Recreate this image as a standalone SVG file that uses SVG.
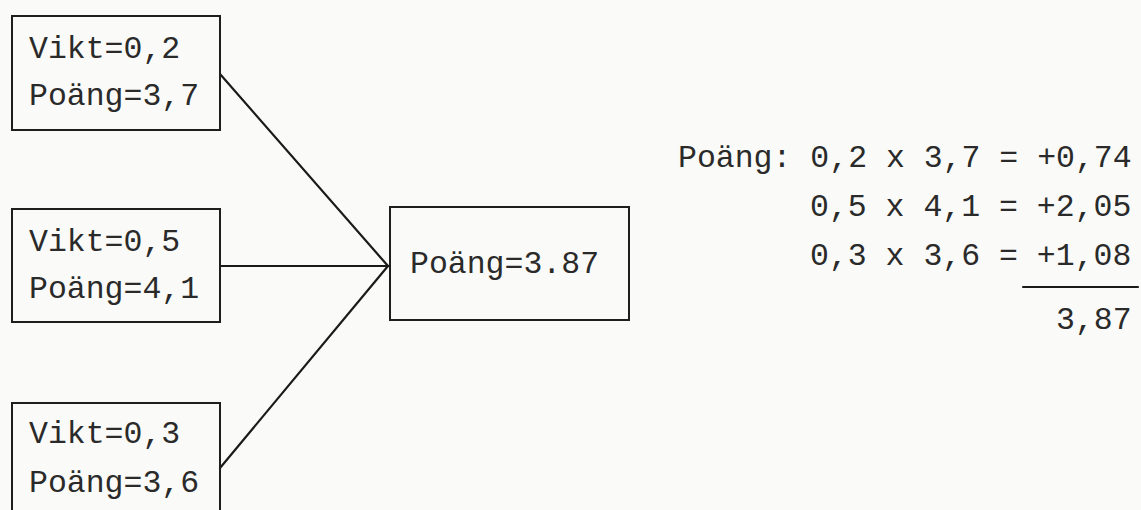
<svg xmlns="http://www.w3.org/2000/svg" width="1141" height="510" viewBox="0 0 1141 510">
<style>
.bg{fill:#fafaf8}
.box{fill:none;stroke:#1e1e1e;stroke-width:2}
.edge{fill:none;stroke:#1a1a1a;stroke-width:2.2;stroke-linecap:round}
.t{font-family:"Liberation Mono","Courier New",monospace;font-size:31.5px;fill:#2a2a2a}
</style>
<rect class="bg" x="0" y="0" width="1141" height="510"/>
<g id="connectors">
<line class="edge" x1="220" y1="74" x2="388" y2="266"/>
<line class="edge" x1="220" y1="266" x2="388" y2="266"/>
<line class="edge" x1="220" y1="468" x2="388" y2="266"/>
</g>
<g id="node1">
<rect class="box" x="12" y="16" width="208" height="114"/>
<text class="t" x="29" y="58">Vikt=0,2</text>
<text class="t" x="29" y="105">Poäng=3,7</text>
</g>
<g id="node2">
<rect class="box" x="12" y="209" width="208" height="113"/>
<text class="t" x="29" y="251">Vikt=0,5</text>
<text class="t" x="29" y="298">Poäng=4,1</text>
</g>
<g id="node3">
<rect class="box" x="12" y="403" width="208" height="114"/>
<text class="t" x="29" y="443">Vikt=0,3</text>
<text class="t" x="29" y="492">Poäng=3,6</text>
</g>
<g id="result">
<rect class="box" x="390" y="207" width="239" height="113"/>
<text class="t" x="410" y="273">Poäng=3.87</text>
</g>
<g id="calculation">
<text class="t" x="678" y="167">Poäng: 0,2 x 3,7 = +0,74</text>
<text class="t" x="810" y="216">0,5 x 4,1 = +2,05</text>
<text class="t" x="810" y="265">0,3 x 3,6 = +1,08</text>
<line class="edge" x1="1023" y1="287" x2="1138" y2="287"/>
<text class="t" x="1056" y="329">3,87</text>
</g>
</svg>
